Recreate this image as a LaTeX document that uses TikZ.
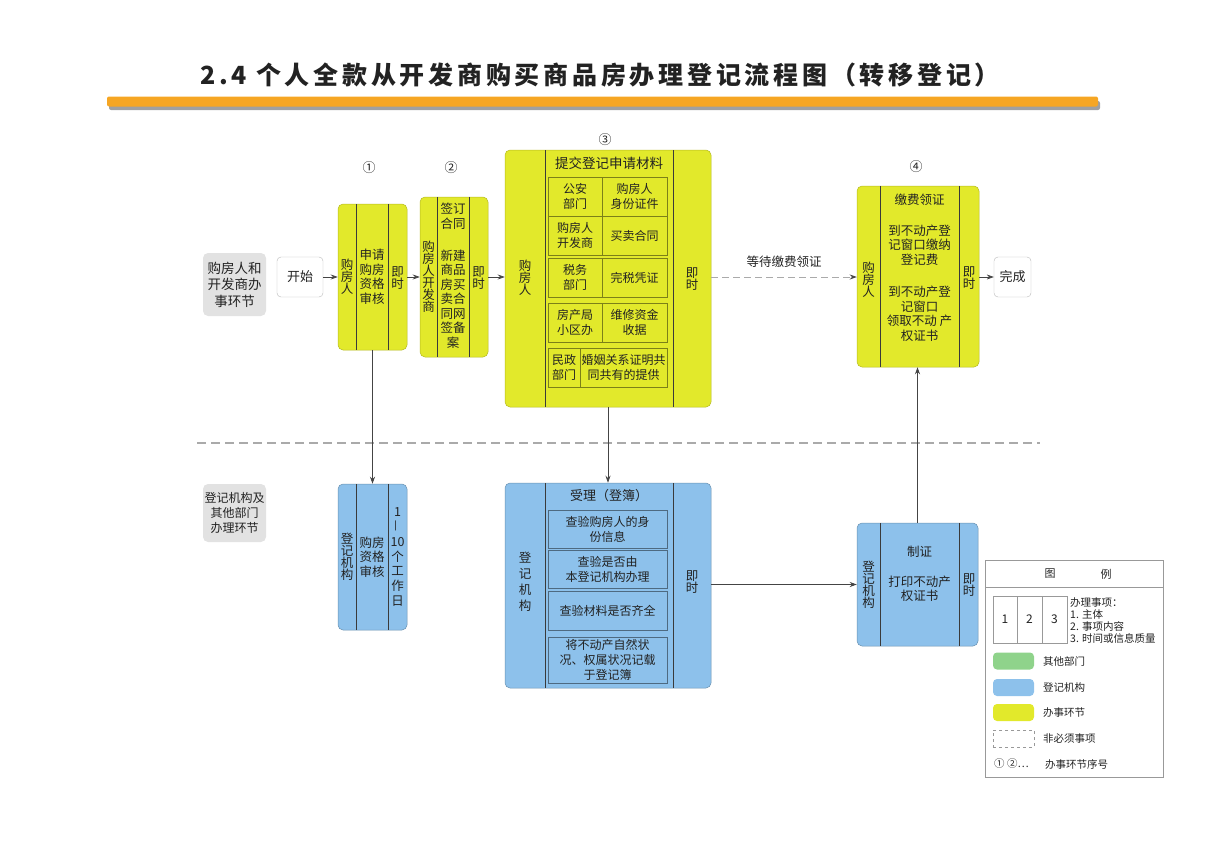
\documentclass[tikz,border=0pt]{standalone}
\usepackage{fontspec}
\setmainfont{Noto Sans CJK SC}
\newfontfamily\titlefont[LetterSpace=15]{Noto Sans CJK SC}
\usetikzlibrary{arrows.meta,calc}
\definecolor{yel}{HTML}{E2E92B}
\definecolor{blu}{HTML}{8DC1EB}
\definecolor{lgry}{HTML}{E2E2E2}
\definecolor{grn}{HTML}{8FD38B}
\definecolor{org}{HTML}{F6A623}
\definecolor{txtc}{HTML}{222222}
\definecolor{divc}{HTML}{3A3A3A}
\definecolor{arrc}{HTML}{444444}
\definecolor{dashc}{HTML}{AAAAAA}
\definecolor{legc}{HTML}{999999}
\definecolor{shad}{HTML}{A0A0A0}
\tikzset{
  ybox/.style={fill=yel, draw=yel!80!black, line width=0.5pt, rounded corners=5pt, inner sep=0pt},
  bbox/.style={fill=blu, draw=blu!75!black, line width=0.5pt, rounded corners=5pt, inner sep=0pt},
  divline/.style={draw=divc, line width=0.8pt},
  ycell/.style={draw=yel!55!black, line width=0.7pt, inner sep=0pt, align=center, font=\fontsize{12}{15}\selectfont, text=txtc},
  bcell/.style={draw=blu!55!black, line width=0.7pt, inner sep=0pt, align=center, font=\fontsize{12}{15}\selectfont, text=txtc},
  txt/.style={align=center, inner sep=0pt, font=\fontsize{12.5}{14.5}\selectfont, text=txtc},
  vtxt/.style={align=center, inner sep=0pt, font=\fontsize{12.5}{12}\selectfont, text=txtc},
  ltxt/.style={anchor=west, inner sep=0pt, align=left, font=\fontsize{10.5}{12.3}\selectfont, text=txtc},
  lane/.style={fill=lgry, rounded corners=5pt, inner sep=0pt, align=center, text=txtc},
  term/.style={fill=white, draw=gray!55, rounded corners=4pt, inner sep=0pt, align=center, font=\fontsize{13}{15}\selectfont, text=txtc},
  arr/.style={draw=arrc, line width=0.7pt, -{Stealth[length=7pt,width=5pt]}},
  darr/.style={draw=dashc, line width=0.8pt, dash pattern=on 7pt off 4pt, -{Stealth[length=7pt,width=5pt,color=arrc]}},
  num/.style={inner sep=0pt, font=\fontsize{13}{13}\selectfont, text=txtc},
  swatch/.style={rounded corners=4pt, minimum width=41pt, minimum height=17pt, inner sep=0pt},
}
\begin{document}
\begin{tikzpicture}[x=1pt,y=-1pt]
\path[use as bounding box] (0,0) rectangle (1205,859);

% title
\node[inner sep=0pt, text=txtc] (title) at (600,75) {\titlefont\bfseries\fontsize{25}{25}\selectfont 2.4 个人全款从开发商购买商品房办理登记流程图（转移登记）};
\fill[shad, rounded corners=2pt] (109,101) rectangle (1100,110);
\fill[org, rounded corners=2pt] (107,96.5) rectangle (1098,106.5);

% lane labels
\node[lane, minimum width=63pt, minimum height=63pt, font=\fontsize{13.5}{16.5}\selectfont] (lane1) at (234.5,284.5) {购房人和\\开发商办\\事环节};
\node[lane, minimum width=63pt, minimum height=58pt, font=\fontsize{12}{15}\selectfont] (lane2) at (234.5,513) {登记机构及\\其他部门\\办理环节};

% lane divider
\draw[dashc, line width=1.5pt, dash pattern=on 9pt off 5pt] (197,443) -- (1040,443);

% start
\node[term, minimum width=46pt, minimum height=40pt] (start) at (300,277) {开始};

% step numbers
\node[num] (n1) at (369,168) {①};
\node[num] (n2) at (451,168) {②};
\node[num] (n3) at (605,140) {③};
\node[num] (n4) at (916,167) {④};

% box 1
\node[ybox, minimum width=69pt, minimum height=146pt] (b1) at (372.5,277) {};
\draw[divline] (356,204) -- (356,350);
\draw[divline] (388,204) -- (388,350);
\node[vtxt] (b1a) at (347,277) {购\\房\\人};
\node[txt] (b1b) at (372,277) {申请\\购房\\资格\\审核};
\node[vtxt] (b1c) at (397.5,278) {即\\时};

% box 2
\node[ybox, minimum width=68pt, minimum height=160pt] (b2) at (454,277) {};
\draw[divline] (437,197) -- (437,357);
\draw[divline] (469,197) -- (469,357);
\node[vtxt] (b2a) at (428.5,277) {购\\房\\人\\开\\发\\商};
\node[txt] (b2b) at (453,216) {签订\\合同};
\node[txt] (b2c) at (453,299) {新建\\商品\\房买\\卖合\\同网\\签备\\案};
\node[vtxt] (b2d) at (478.5,278) {即\\时};

% box 3
\node[ybox, minimum width=206pt, minimum height=257pt] (b3) at (608,278.5) {};
\draw[divline] (545,150) -- (545,407);
\draw[divline] (673,150) -- (673,407);
\node[vtxt] (b3a) at (525,278) {购\\房\\人};
\node[vtxt] (b3z) at (692,279) {即\\时};
\node[txt, font=\fontsize{13.5}{15}\selectfont] (b3h) at (609,163) {提交登记申请材料};
\node[ycell, minimum width=54pt, minimum height=39pt] (b3r1a) at (575,196.5) {公安\\部门};
\node[ycell, minimum width=65pt, minimum height=39pt] (b3r1b) at (634.5,196.5) {购房人\\身份证件};
\node[ycell, minimum width=54pt, minimum height=39pt] (b3r2a) at (575,235.5) {购房人\\开发商};
\node[ycell, minimum width=65pt, minimum height=39pt] (b3r2b) at (634.5,235.5) {买卖合同};
\node[ycell, minimum width=54pt, minimum height=39pt] (b3r3a) at (575,277.5) {税务\\部门};
\node[ycell, minimum width=65pt, minimum height=39pt] (b3r3b) at (634.5,277.5) {完税凭证};
\node[ycell, minimum width=54pt, minimum height=39pt] (b3r4a) at (575,322.5) {房产局\\小区办};
\node[ycell, minimum width=65pt, minimum height=39pt] (b3r4b) at (634.5,322.5) {维修资金\\收据};
\node[ycell, minimum width=32pt, minimum height=39pt] (b3r5a) at (564,367.5) {民政\\部门};
\node[ycell, minimum width=87pt, minimum height=39pt] (b3r5b) at (623.5,367.5) {婚姻关系证明共\\同共有的提供};

% box 4
\node[ybox, minimum width=122pt, minimum height=181pt] (b4) at (918,276.5) {};
\draw[divline] (880,186) -- (880,367);
\draw[divline] (959,186) -- (959,367);
\node[vtxt] (b4a) at (868.5,280) {购\\房\\人};
\node[txt] (b4b) at (919.5,200) {缴费领证};
\node[txt] (b4c) at (919.5,245) {到不动产登\\记窗口缴纳\\登记费};
\node[txt] (b4d) at (919.5,314) {到不动产登\\记窗口\\领取不动 产\\权证书};
\node[vtxt] (b4e) at (969,278) {即\\时};

% end
\node[term, minimum width=37pt, minimum height=40pt] (end) at (1012.5,277) {完成};

% lower box 1
\node[bbox, minimum width=69pt, minimum height=146pt] (c1) at (372.5,557) {};
\draw[divline] (356,484) -- (356,630);
\draw[divline] (388,484) -- (388,630);
\node[vtxt] (c1a) at (347,557) {登\\记\\机\\构};
\node[txt] (c1b) at (372,557) {购房\\资格\\审核};
\node[align=center, inner sep=0pt, font=\fontsize{12.5}{14.7}\selectfont, text=txtc] (c1c) at (397.5,557) {1\\\rotatebox{90}{—}\\10\\个\\工\\作\\日};

% lower box 3
\node[bbox, minimum width=206pt, minimum height=205pt] (c3) at (608,585.5) {};
\draw[divline] (545,483) -- (545,688);
\draw[divline] (673,483) -- (673,688);
\node[align=center, inner sep=0pt, font=\fontsize{12.5}{16}\selectfont, text=txtc] (c3a) at (525,582) {登\\记\\机\\构};
\node[vtxt] (c3z) at (692,582) {即\\时};
\node[txt, font=\fontsize{13}{15}\selectfont] (c3h) at (609,496) {受理（登簿）};
\node[bcell, minimum width=119pt, minimum height=38pt] (c3r1) at (607.5,529) {查验购房人的身\\份信息};
\node[bcell, minimum width=119pt, minimum height=38pt] (c3r2) at (607.5,569) {查验是否由\\本登记机构办理};
\node[bcell, minimum width=119pt, minimum height=39pt] (c3r3) at (607.5,610.5) {查验材料是否齐全};
\node[bcell, minimum width=119pt, minimum height=46pt] (c3r4) at (607.5,660) {将不动产自然状\\况、权属状况记载\\于登记簿};

% lower box 4
\node[bbox, minimum width=121pt, minimum height=123pt] (c4) at (917.5,584.5) {};
\draw[divline] (880,523) -- (880,646);
\draw[divline] (959,523) -- (959,646);
\node[vtxt] (c4a) at (868.5,585) {登\\记\\机\\构};
\node[txt] (c4b) at (919.5,552) {制证};
\node[txt] (c4c) at (919.5,589) {打印不动产\\权证书};
\node[vtxt] (c4d) at (969,585) {即\\时};

% connectors
\draw[arr] (start.east) -- (b1.west);
\draw[arr] (b1.east) -- (b2.west);
\draw[arr] (b2.east) -- (b2.east -| b3.west);
\draw[darr] (b3.east |- start) -- (b4.west |- start) node[midway, above=9pt, inner sep=0pt, font=\fontsize{12.5}{14}\selectfont, text=txtc] (waitlbl) {等待缴费领证};
\draw[arr] (b4.east |- end) -- (end.west);
\draw[arr] (b1.south) -- (c1.north);
\draw[arr] (b3.south) -- (c3.north);
\draw[arr] (c3.east |- c4) -- (c4.west);
\draw[arr] (c4.north) -- (c4.north |- b4.south);

% legend
\node[draw=legc, line width=0.6pt, minimum width=178pt, minimum height=217pt, inner sep=0pt] (leg) at (1074,668.5) {};
\draw[legc, line width=0.6pt] (985,587) -- (1163,587);
\node[inner sep=0pt, font=\fontsize{11}{12}\selectfont, text=txtc] (legh1) at (1050,574) {图};
\node[inner sep=0pt, font=\fontsize{11}{12}\selectfont, text=txtc] (legh2) at (1106,574) {例};
\node[draw=legc, line width=0.6pt, minimum width=74pt, minimum height=47pt, inner sep=0pt] (leg123) at (1030,619.5) {};
\draw[legc, line width=0.6pt] (1017,596) -- (1017,643);
\draw[legc, line width=0.6pt] (1042,596) -- (1042,643);
\node[inner sep=0pt, font=\fontsize{12}{12}\selectfont, text=txtc] (lg1) at (1005,619.5) {1};
\node[inner sep=0pt, font=\fontsize{12}{12}\selectfont, text=txtc] (lg2) at (1029.5,619.5) {2};
\node[inner sep=0pt, font=\fontsize{12}{12}\selectfont, text=txtc] (lg3) at (1054.5,619.5) {3};
\node[ltxt] (lgt) at (1070,620.5) {办理事项：\\1. 主体\\2. 事项内容\\3. 时间或信息质量};
\node[swatch, fill=grn] (sw1) at (1013.5,661) {};
\node[ltxt] (sw1t) at (1043,661) {其他部门};
\node[swatch, fill=blu] (sw2) at (1013.5,687.5) {};
\node[ltxt] (sw2t) at (1043,687.5) {登记机构};
\node[swatch, fill=yel] (sw3) at (1013.5,712.5) {};
\node[ltxt] (sw3t) at (1043,712.5) {办事环节};
\node[swatch, draw=legc, dashed, rounded corners=0pt, fill=white] (sw4) at (1013.5,738.5) {};
\node[ltxt] (sw4t) at (1043,738.5) {非必须事项};
\node[ltxt] (sw5) at (994,764) {① ②…};
\node[ltxt] (sw5t) at (1045,764) {办事环节序号};
\end{tikzpicture}
\end{document}
